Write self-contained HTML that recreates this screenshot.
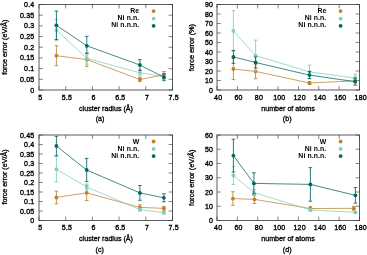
<!DOCTYPE html>
<html><head><meta charset="utf-8"><style>
html,body{margin:0;padding:0;background:#fff;}
svg{display:block;will-change:transform;}
text{font-family:"Liberation Sans", sans-serif;fill:#000;stroke:#000;stroke-width:0.35px;}
.t{font-size:7.0px;letter-spacing:0.18px;}
.l{font-size:7.15px;stroke-width:0.3px;}
.g{font-size:6.9px;letter-spacing:0.1px;stroke-width:0.0px;font-weight:bold;}
</style></head><body>
<svg xmlns="http://www.w3.org/2000/svg" width="367" height="255" viewBox="0 0 367 255">
<rect width="367" height="255" fill="#fff"/>
<rect x="39.0" y="4.5" width="133.5" height="85.5" fill="none" stroke="#5a5a5a" stroke-width="1.0"/>
<path d="M39.00 90.0v-3.9M39.00 4.5v3.9M65.70 90.0v-3.9M65.70 4.5v3.9M92.40 90.0v-3.9M92.40 4.5v3.9M119.10 90.0v-3.9M119.10 4.5v3.9M145.80 90.0v-3.9M145.80 4.5v3.9M172.50 90.0v-3.9M172.50 4.5v3.9M39.0 90.00h3.9M172.5 90.00h-3.9M39.0 79.31h3.9M172.5 79.31h-3.9M39.0 68.62h3.9M172.5 68.62h-3.9M39.0 57.94h3.9M172.5 57.94h-3.9M39.0 47.25h3.9M172.5 47.25h-3.9M39.0 36.56h3.9M172.5 36.56h-3.9M39.0 25.88h3.9M172.5 25.88h-3.9M39.0 15.19h3.9M172.5 15.19h-3.9M39.0 4.50h3.9M172.5 4.50h-3.9" stroke="#333" stroke-width="0.6" fill="none"/>
<text x="40.20" y="99.6" text-anchor="middle" class="t">5</text>
<text x="66.90" y="99.6" text-anchor="middle" class="t">5.5</text>
<text x="93.60" y="99.6" text-anchor="middle" class="t">6</text>
<text x="120.30" y="99.6" text-anchor="middle" class="t">6.5</text>
<text x="147.00" y="99.6" text-anchor="middle" class="t">7</text>
<text x="173.70" y="99.6" text-anchor="middle" class="t">7.5</text>
<text x="34.4" y="92.50" text-anchor="end" class="t">0</text>
<text x="34.4" y="81.81" text-anchor="end" class="t">0.05</text>
<text x="34.4" y="71.12" text-anchor="end" class="t">0.1</text>
<text x="34.4" y="60.44" text-anchor="end" class="t">0.15</text>
<text x="34.4" y="49.75" text-anchor="end" class="t">0.2</text>
<text x="34.4" y="39.06" text-anchor="end" class="t">0.25</text>
<text x="34.4" y="28.38" text-anchor="end" class="t">0.3</text>
<text x="34.4" y="17.69" text-anchor="end" class="t">0.35</text>
<text x="34.4" y="7.00" text-anchor="end" class="t">0.4</text>
<text x="106.0" y="110.9" text-anchor="middle" class="l">cluster radius (Å)</text>
<text transform="translate(6.6,47.25) rotate(-90)" x="0" y="0" text-anchor="middle" class="l" style="font-size:7.15px">force error (eV/Å)</text>
<text x="100.1" y="121.0" text-anchor="middle" class="l">(a)</text>
<polyline points="56.40,55.70 86.80,59.60 139.90,79.50 163.90,74.80" fill="none" stroke="#bf812d" stroke-width="0.75"/>
<path d="M56.40 45.70V65.70M54.60 45.70H58.20M54.60 65.70H58.20M86.80 53.30V66.40M85.00 53.30H88.60M85.00 66.40H88.60M139.90 77.40V81.60M138.10 77.40H141.70M138.10 81.60H141.70M163.90 71.50V78.10M162.10 71.50H165.70M162.10 78.10H165.70" stroke="#bf812d" stroke-width="0.85" fill="none"/>
<circle cx="56.40" cy="55.70" r="1.9" fill="#bf812d"/>
<circle cx="86.80" cy="59.60" r="1.9" fill="#bf812d"/>
<circle cx="139.90" cy="79.50" r="1.9" fill="#bf812d"/>
<circle cx="163.90" cy="74.80" r="1.9" fill="#bf812d"/>
<polyline points="56.40,30.10 86.80,58.30 139.90,72.80 163.90,76.50" fill="none" stroke="#80cdc1" stroke-width="0.75"/>
<path d="M56.40 19.60V40.60M54.60 19.60H58.20M54.60 40.60H58.20M86.80 55.10V64.20M85.00 55.10H88.60M85.00 64.20H88.60M139.90 69.80V75.80M138.10 69.80H141.70M138.10 75.80H141.70M163.90 73.50V79.50M162.10 73.50H165.70M162.10 79.50H165.70" stroke="#80cdc1" stroke-width="0.85" fill="none"/>
<circle cx="56.40" cy="30.10" r="1.9" fill="#80cdc1"/>
<circle cx="86.80" cy="58.30" r="1.9" fill="#80cdc1"/>
<circle cx="139.90" cy="72.80" r="1.9" fill="#80cdc1"/>
<circle cx="163.90" cy="76.50" r="1.9" fill="#80cdc1"/>
<polyline points="56.40,25.30 86.80,45.80 139.90,65.00 163.90,77.20" fill="none" stroke="#01665e" stroke-width="0.75"/>
<path d="M56.40 11.10V39.50M54.60 11.10H58.20M54.60 39.50H58.20M86.80 36.30V53.20M85.00 36.30H88.60M85.00 53.20H88.60M139.90 59.60V70.40M138.10 59.60H141.70M138.10 70.40H141.70M163.90 73.70V80.70M162.10 73.70H165.70M162.10 80.70H165.70" stroke="#01665e" stroke-width="0.85" fill="none"/>
<circle cx="56.40" cy="25.30" r="1.9" fill="#01665e"/>
<circle cx="86.80" cy="45.80" r="1.9" fill="#01665e"/>
<circle cx="139.90" cy="65.00" r="1.9" fill="#01665e"/>
<circle cx="163.90" cy="77.20" r="1.9" fill="#01665e"/>
<text x="139.3" y="13.30" text-anchor="end" class="g">Re</text>
<circle cx="153.6" cy="11.05" r="1.9" fill="#bf812d"/>
<text x="139.3" y="20.20" text-anchor="end" class="g">Ni n.n.</text>
<circle cx="153.6" cy="18.6" r="1.9" fill="#80cdc1"/>
<text x="139.3" y="27.10" text-anchor="end" class="g">Ni n.n.n.</text>
<circle cx="153.6" cy="25.8" r="1.9" fill="#01665e"/>
<rect x="217.0" y="4.5" width="142.5" height="85.5" fill="none" stroke="#5a5a5a" stroke-width="1.0"/>
<path d="M217.00 90.0v-3.9M217.00 4.5v3.9M237.36 90.0v-3.9M237.36 4.5v3.9M257.71 90.0v-3.9M257.71 4.5v3.9M278.07 90.0v-3.9M278.07 4.5v3.9M298.43 90.0v-3.9M298.43 4.5v3.9M318.79 90.0v-3.9M318.79 4.5v3.9M339.14 90.0v-3.9M339.14 4.5v3.9M359.50 90.0v-3.9M359.50 4.5v3.9M217.0 90.00h3.9M359.5 90.00h-3.9M217.0 80.50h3.9M359.5 80.50h-3.9M217.0 71.00h3.9M359.5 71.00h-3.9M217.0 61.50h3.9M359.5 61.50h-3.9M217.0 52.00h3.9M359.5 52.00h-3.9M217.0 42.50h3.9M359.5 42.50h-3.9M217.0 33.00h3.9M359.5 33.00h-3.9M217.0 23.50h3.9M359.5 23.50h-3.9M217.0 14.00h3.9M359.5 14.00h-3.9M217.0 4.50h3.9M359.5 4.50h-3.9" stroke="#333" stroke-width="0.6" fill="none"/>
<text x="218.20" y="99.6" text-anchor="middle" class="t">40</text>
<text x="238.56" y="99.6" text-anchor="middle" class="t">60</text>
<text x="258.91" y="99.6" text-anchor="middle" class="t">80</text>
<text x="279.27" y="99.6" text-anchor="middle" class="t">100</text>
<text x="299.63" y="99.6" text-anchor="middle" class="t">120</text>
<text x="319.99" y="99.6" text-anchor="middle" class="t">140</text>
<text x="340.34" y="99.6" text-anchor="middle" class="t">160</text>
<text x="360.70" y="99.6" text-anchor="middle" class="t">180</text>
<text x="213.1" y="92.50" text-anchor="end" class="t">0</text>
<text x="213.1" y="83.00" text-anchor="end" class="t">10</text>
<text x="213.1" y="73.50" text-anchor="end" class="t">20</text>
<text x="213.1" y="64.00" text-anchor="end" class="t">30</text>
<text x="213.1" y="54.50" text-anchor="end" class="t">40</text>
<text x="213.1" y="45.00" text-anchor="end" class="t">50</text>
<text x="213.1" y="35.50" text-anchor="end" class="t">60</text>
<text x="213.1" y="26.00" text-anchor="end" class="t">70</text>
<text x="213.1" y="16.50" text-anchor="end" class="t">80</text>
<text x="213.1" y="7.00" text-anchor="end" class="t">90</text>
<text x="288.0" y="110.9" text-anchor="middle" class="l">number of atoms</text>
<text transform="translate(193.6,47.6) rotate(-90)" x="0" y="0" text-anchor="middle" class="l" style="font-size:7.35px">force error (%)</text>
<text x="287.2" y="121.0" text-anchor="middle" class="l">(b)</text>
<polyline points="233.40,69.00 255.60,71.40 309.50,83.00 355.20,80.80" fill="none" stroke="#bf812d" stroke-width="0.75"/>
<path d="M233.40 58.40V79.60M231.60 58.40H235.20M231.60 79.60H235.20M255.60 64.10V78.70M253.80 64.10H257.40M253.80 78.70H257.40M309.50 81.50V84.50M307.70 81.50H311.30M307.70 84.50H311.30M355.20 79.20V82.40M353.40 79.20H357.00M353.40 82.40H357.00" stroke="#bf812d" stroke-width="0.85" fill="none"/>
<circle cx="233.40" cy="69.00" r="1.9" fill="#bf812d"/>
<circle cx="255.60" cy="71.40" r="1.9" fill="#bf812d"/>
<circle cx="309.50" cy="83.00" r="1.9" fill="#bf812d"/>
<circle cx="355.20" cy="80.80" r="1.9" fill="#bf812d"/>
<polyline points="233.40,30.90 255.60,55.60 309.50,71.90 355.20,78.00" fill="none" stroke="#80cdc1" stroke-width="0.75"/>
<path d="M233.40 10.60V51.20M231.60 10.60H235.20M231.60 51.20H235.20M255.60 40.10V71.10M253.80 40.10H257.40M253.80 71.10H257.40M309.50 65.10V78.70M307.70 65.10H311.30M307.70 78.70H311.30M355.20 74.20V81.80M353.40 74.20H357.00M353.40 81.80H357.00" stroke="#80cdc1" stroke-width="0.85" fill="none"/>
<circle cx="233.40" cy="30.90" r="1.9" fill="#80cdc1"/>
<circle cx="255.60" cy="55.60" r="1.9" fill="#80cdc1"/>
<circle cx="309.50" cy="71.90" r="1.9" fill="#80cdc1"/>
<circle cx="355.20" cy="78.00" r="1.9" fill="#80cdc1"/>
<polyline points="233.40,56.90 255.60,62.50 309.50,75.10 355.20,81.70" fill="none" stroke="#01665e" stroke-width="0.75"/>
<path d="M233.40 50.50V63.30M231.60 50.50H235.20M231.60 63.30H235.20M255.60 57.00V68.00M253.80 57.00H257.40M253.80 68.00H257.40M309.50 71.60V78.60M307.70 71.60H311.30M307.70 78.60H311.30M355.20 78.20V85.20M353.40 78.20H357.00M353.40 85.20H357.00" stroke="#01665e" stroke-width="0.85" fill="none"/>
<circle cx="233.40" cy="56.90" r="1.9" fill="#01665e"/>
<circle cx="255.60" cy="62.50" r="1.9" fill="#01665e"/>
<circle cx="309.50" cy="75.10" r="1.9" fill="#01665e"/>
<circle cx="355.20" cy="81.70" r="1.9" fill="#01665e"/>
<text x="326.4" y="13.30" text-anchor="end" class="g">Re</text>
<circle cx="340.6" cy="11.05" r="1.9" fill="#bf812d"/>
<text x="326.4" y="20.20" text-anchor="end" class="g">Ni n.n.</text>
<circle cx="340.6" cy="18.6" r="1.9" fill="#80cdc1"/>
<text x="326.4" y="27.10" text-anchor="end" class="g">Ni n.n.n.</text>
<circle cx="340.6" cy="25.8" r="1.9" fill="#01665e"/>
<rect x="39.0" y="135.0" width="133.5" height="85.5" fill="none" stroke="#5a5a5a" stroke-width="1.0"/>
<path d="M39.00 220.5v-3.9M39.00 135.0v3.9M65.70 220.5v-3.9M65.70 135.0v3.9M92.40 220.5v-3.9M92.40 135.0v3.9M119.10 220.5v-3.9M119.10 135.0v3.9M145.80 220.5v-3.9M145.80 135.0v3.9M172.50 220.5v-3.9M172.50 135.0v3.9M39.0 220.50h3.9M172.5 220.50h-3.9M39.0 211.00h3.9M172.5 211.00h-3.9M39.0 201.50h3.9M172.5 201.50h-3.9M39.0 192.00h3.9M172.5 192.00h-3.9M39.0 182.50h3.9M172.5 182.50h-3.9M39.0 173.00h3.9M172.5 173.00h-3.9M39.0 163.50h3.9M172.5 163.50h-3.9M39.0 154.00h3.9M172.5 154.00h-3.9M39.0 144.50h3.9M172.5 144.50h-3.9M39.0 135.00h3.9M172.5 135.00h-3.9" stroke="#333" stroke-width="0.6" fill="none"/>
<text x="40.20" y="230.1" text-anchor="middle" class="t">5</text>
<text x="66.90" y="230.1" text-anchor="middle" class="t">5.5</text>
<text x="93.60" y="230.1" text-anchor="middle" class="t">6</text>
<text x="120.30" y="230.1" text-anchor="middle" class="t">6.5</text>
<text x="147.00" y="230.1" text-anchor="middle" class="t">7</text>
<text x="173.70" y="230.1" text-anchor="middle" class="t">7.5</text>
<text x="34.4" y="223.00" text-anchor="end" class="t">0</text>
<text x="34.4" y="213.50" text-anchor="end" class="t">0.05</text>
<text x="34.4" y="204.00" text-anchor="end" class="t">0.1</text>
<text x="34.4" y="194.50" text-anchor="end" class="t">0.15</text>
<text x="34.4" y="185.00" text-anchor="end" class="t">0.2</text>
<text x="34.4" y="175.50" text-anchor="end" class="t">0.25</text>
<text x="34.4" y="166.00" text-anchor="end" class="t">0.3</text>
<text x="34.4" y="156.50" text-anchor="end" class="t">0.35</text>
<text x="34.4" y="147.00" text-anchor="end" class="t">0.4</text>
<text x="34.4" y="137.50" text-anchor="end" class="t">0.45</text>
<text x="106.0" y="241.4" text-anchor="middle" class="l">cluster radius (Å)</text>
<text transform="translate(6.6,177.0) rotate(-90)" x="0" y="0" text-anchor="middle" class="l" style="font-size:7.15px">force error (eV/Å)</text>
<text x="99.7" y="251.5" text-anchor="middle" class="l">(c)</text>
<polyline points="56.40,197.50 86.70,192.80 139.90,207.45 163.90,208.35" fill="none" stroke="#bf812d" stroke-width="0.75"/>
<path d="M56.40 191.20V203.80M54.60 191.20H58.20M54.60 203.80H58.20M86.70 185.10V200.50M84.90 185.10H88.50M84.90 200.50H88.50M139.90 204.85V210.05M138.10 204.85H141.70M138.10 210.05H141.70M163.90 206.35V210.35M162.10 206.35H165.70M162.10 210.35H165.70" stroke="#bf812d" stroke-width="0.85" fill="none"/>
<circle cx="56.40" cy="197.50" r="1.9" fill="#bf812d"/>
<circle cx="86.70" cy="192.80" r="1.9" fill="#bf812d"/>
<circle cx="139.90" cy="207.45" r="1.9" fill="#bf812d"/>
<circle cx="163.90" cy="208.35" r="1.9" fill="#bf812d"/>
<polyline points="56.40,169.20 86.70,187.00 139.90,209.60 163.90,212.75" fill="none" stroke="#80cdc1" stroke-width="0.75"/>
<path d="M56.40 156.50V181.90M54.60 156.50H58.20M54.60 181.90H58.20M86.70 184.00V190.00M84.90 184.00H88.50M84.90 190.00H88.50M139.90 208.10V211.10M138.10 208.10H141.70M138.10 211.10H141.70M163.90 211.55V213.95M162.10 211.55H165.70M162.10 213.95H165.70" stroke="#80cdc1" stroke-width="0.85" fill="none"/>
<circle cx="56.40" cy="169.20" r="1.9" fill="#80cdc1"/>
<circle cx="86.70" cy="187.00" r="1.9" fill="#80cdc1"/>
<circle cx="139.90" cy="209.60" r="1.9" fill="#80cdc1"/>
<circle cx="163.90" cy="212.75" r="1.9" fill="#80cdc1"/>
<polyline points="56.40,146.00 86.70,170.00 139.90,192.90 163.90,197.80" fill="none" stroke="#01665e" stroke-width="0.75"/>
<path d="M56.40 136.30V155.70M54.60 136.30H58.20M54.60 155.70H58.20M86.70 158.40V181.60M84.90 158.40H88.50M84.90 181.60H88.50M139.90 185.50V200.30M138.10 185.50H141.70M138.10 200.30H141.70M163.90 193.80V201.80M162.10 193.80H165.70M162.10 201.80H165.70" stroke="#01665e" stroke-width="0.85" fill="none"/>
<circle cx="56.40" cy="146.00" r="1.9" fill="#01665e"/>
<circle cx="86.70" cy="170.00" r="1.9" fill="#01665e"/>
<circle cx="139.90" cy="192.90" r="1.9" fill="#01665e"/>
<circle cx="163.90" cy="197.80" r="1.9" fill="#01665e"/>
<text x="139.3" y="143.80" text-anchor="end" class="g">W</text>
<circle cx="153.6" cy="141.5" r="1.9" fill="#bf812d"/>
<text x="139.3" y="150.70" text-anchor="end" class="g">Ni n.n.</text>
<circle cx="153.6" cy="148.9" r="1.9" fill="#80cdc1"/>
<text x="139.3" y="157.60" text-anchor="end" class="g">Ni n.n.n.</text>
<circle cx="153.6" cy="156.1" r="1.9" fill="#01665e"/>
<rect x="217.0" y="135.0" width="142.5" height="85.5" fill="none" stroke="#5a5a5a" stroke-width="1.0"/>
<path d="M217.00 220.5v-3.9M217.00 135.0v3.9M237.36 220.5v-3.9M237.36 135.0v3.9M257.71 220.5v-3.9M257.71 135.0v3.9M278.07 220.5v-3.9M278.07 135.0v3.9M298.43 220.5v-3.9M298.43 135.0v3.9M318.79 220.5v-3.9M318.79 135.0v3.9M339.14 220.5v-3.9M339.14 135.0v3.9M359.50 220.5v-3.9M359.50 135.0v3.9M217.0 220.50h3.9M359.5 220.50h-3.9M217.0 206.25h3.9M359.5 206.25h-3.9M217.0 192.00h3.9M359.5 192.00h-3.9M217.0 177.75h3.9M359.5 177.75h-3.9M217.0 163.50h3.9M359.5 163.50h-3.9M217.0 149.25h3.9M359.5 149.25h-3.9M217.0 135.00h3.9M359.5 135.00h-3.9" stroke="#333" stroke-width="0.6" fill="none"/>
<text x="218.20" y="230.1" text-anchor="middle" class="t">40</text>
<text x="238.56" y="230.1" text-anchor="middle" class="t">60</text>
<text x="258.91" y="230.1" text-anchor="middle" class="t">80</text>
<text x="279.27" y="230.1" text-anchor="middle" class="t">100</text>
<text x="299.63" y="230.1" text-anchor="middle" class="t">120</text>
<text x="319.99" y="230.1" text-anchor="middle" class="t">140</text>
<text x="340.34" y="230.1" text-anchor="middle" class="t">160</text>
<text x="360.70" y="230.1" text-anchor="middle" class="t">180</text>
<text x="213.1" y="223.00" text-anchor="end" class="t">0</text>
<text x="213.1" y="208.75" text-anchor="end" class="t">10</text>
<text x="213.1" y="194.50" text-anchor="end" class="t">20</text>
<text x="213.1" y="180.25" text-anchor="end" class="t">30</text>
<text x="213.1" y="166.00" text-anchor="end" class="t">40</text>
<text x="213.1" y="151.75" text-anchor="end" class="t">50</text>
<text x="213.1" y="137.50" text-anchor="end" class="t">60</text>
<text x="288.0" y="241.4" text-anchor="middle" class="l">number of atoms</text>
<text transform="translate(193.6,177.7) rotate(-90)" x="0" y="0" text-anchor="middle" class="l" style="font-size:7.3px">force error (eV/Å)</text>
<text x="287.2" y="251.5" text-anchor="middle" class="l">(d)</text>
<polyline points="232.90,198.55 254.50,199.40 310.40,208.55 353.80,208.30" fill="none" stroke="#bf812d" stroke-width="0.75"/>
<path d="M232.90 191.75V205.35M231.10 191.75H234.70M231.10 205.35H234.70M254.50 195.30V203.50M252.70 195.30H256.30M252.70 203.50H256.30M310.40 206.55V210.55M308.60 206.55H312.20M308.60 210.55H312.20M353.80 206.30V210.30M352.00 206.30H355.60M352.00 210.30H355.60" stroke="#bf812d" stroke-width="0.85" fill="none"/>
<circle cx="232.90" cy="198.55" r="1.9" fill="#bf812d"/>
<circle cx="254.50" cy="199.40" r="1.9" fill="#bf812d"/>
<circle cx="310.40" cy="208.55" r="1.9" fill="#bf812d"/>
<circle cx="353.80" cy="208.30" r="1.9" fill="#bf812d"/>
<polyline points="233.40,175.50 253.90,192.60 310.40,209.90 355.40,212.40" fill="none" stroke="#80cdc1" stroke-width="0.75"/>
<path d="M233.40 166.60V184.40M231.60 166.60H235.20M231.60 184.40H235.20M253.90 189.60V195.60M252.10 189.60H255.70M252.10 195.60H255.70M310.40 208.40V211.40M308.60 208.40H312.20M308.60 211.40H312.20M355.40 211.40V213.40M353.60 211.40H357.20M353.60 213.40H357.20" stroke="#80cdc1" stroke-width="0.85" fill="none"/>
<circle cx="233.40" cy="175.50" r="1.9" fill="#80cdc1"/>
<circle cx="253.90" cy="192.60" r="1.9" fill="#80cdc1"/>
<circle cx="310.40" cy="209.90" r="1.9" fill="#80cdc1"/>
<circle cx="355.40" cy="212.40" r="1.9" fill="#80cdc1"/>
<polyline points="233.40,155.60 253.90,183.40 310.40,184.40 355.40,195.35" fill="none" stroke="#01665e" stroke-width="0.75"/>
<path d="M233.40 139.20V172.00M231.60 139.20H235.20M231.60 172.00H235.20M253.90 172.80V194.00M252.10 172.80H255.70M252.10 194.00H255.70M310.40 167.60V201.20M308.60 167.60H312.20M308.60 201.20H312.20M355.40 187.55V203.15M353.60 187.55H357.20M353.60 203.15H357.20" stroke="#01665e" stroke-width="0.85" fill="none"/>
<circle cx="233.40" cy="155.60" r="1.9" fill="#01665e"/>
<circle cx="253.90" cy="183.40" r="1.9" fill="#01665e"/>
<circle cx="310.40" cy="184.40" r="1.9" fill="#01665e"/>
<circle cx="355.40" cy="195.35" r="1.9" fill="#01665e"/>
<text x="326.4" y="143.80" text-anchor="end" class="g">W</text>
<circle cx="340.6" cy="141.5" r="1.9" fill="#bf812d"/>
<text x="326.4" y="150.70" text-anchor="end" class="g">Ni n.n.</text>
<circle cx="340.6" cy="148.9" r="1.9" fill="#80cdc1"/>
<text x="326.4" y="157.60" text-anchor="end" class="g">Ni n.n.n.</text>
<circle cx="340.6" cy="156.1" r="1.9" fill="#01665e"/>
</svg>
</body></html>
